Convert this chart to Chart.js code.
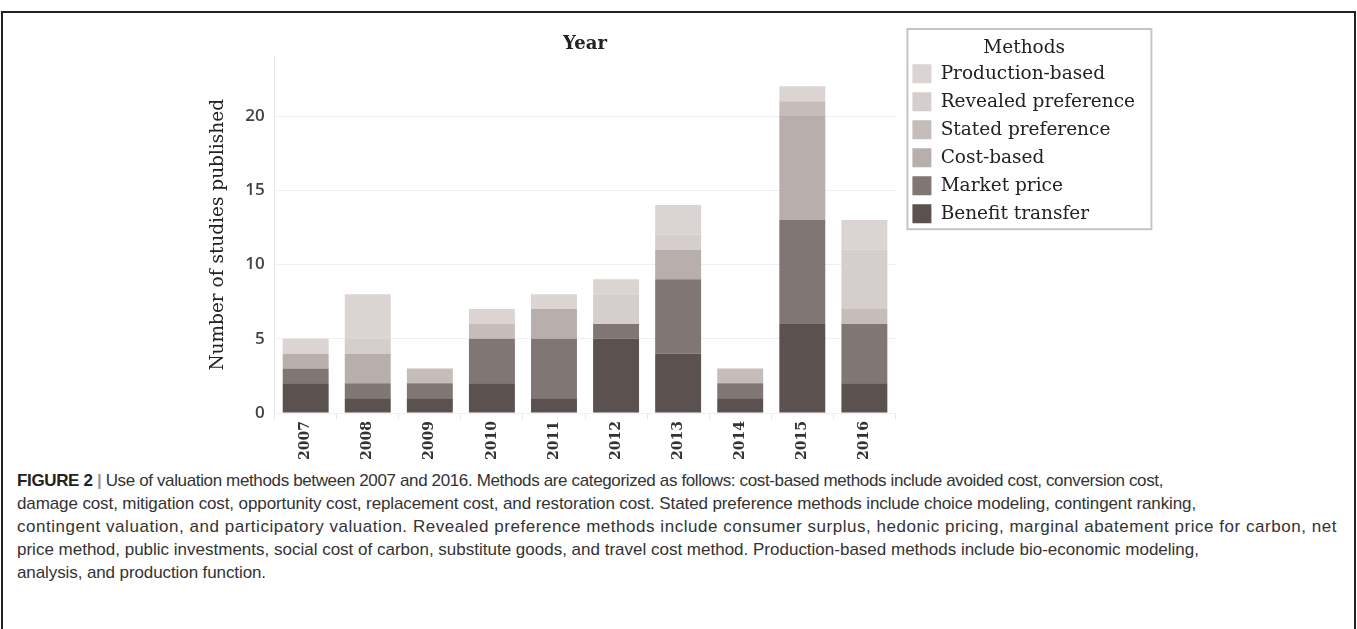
<!DOCTYPE html>
<html>
<head>
<meta charset="utf-8">
<script src="https://cdn.jsdelivr.net/npm/chart.js@4.4.1/dist/chart.umd.min.js"></script>
<style>
  html, body { margin: 0; padding: 0; background: #fff; }
  body { width: 1357px; height: 629px; position: relative; overflow: hidden; }
  .frame { position: absolute; left: 1px; top: 11px; width: 1351px; height: 640px;
           border: 2px solid #222; border-bottom: none; }
  .chart-wrapper { position: absolute; left: 0; top: 0; width: 1357px; height: 466px; }
  .caption { position: absolute; left: 17px; top: 469px;
             font-family: "Liberation Sans", Arial, sans-serif; font-size: 17px;
             line-height: 23px; color: #333; white-space: nowrap; }
  .caption span { display: block; }
  .caption b { color: #222; }
  .caption b i { font-style: normal; color: #999; }
</style>
</head>
<body>
<div class="frame"></div>
<div class="chart-wrapper"><canvas id="mainChart"></canvas></div>
<div class="caption">
  <span data-end="1163"><b>FIGURE 2 <i>|</i></b> Use of valuation methods between 2007 and 2016. Methods are categorized as follows: cost-based methods include avoided cost, conversion cost,</span>
  <span data-end="1196">damage cost, mitigation cost, opportunity cost, replacement cost, and restoration cost. Stated preference methods include choice modeling, contingent ranking,</span>
  <span data-end="1337">contingent valuation, and participatory valuation. Revealed preference methods include consumer surplus, hedonic pricing, marginal abatement price for carbon, net</span>
  <span data-end="1199">price method, public investments, social cost of carbon, substitute goods, and travel cost method. Production-based methods include bio-economic modeling,</span>
  <span data-end="266">analysis, and production function.</span>
</div>
<script>
const years = ['2007', '2008', '2009', '2010', '2011', '2012', '2013', '2014', '2015', '2016'];
const benefitTransfer = [2, 1, 1, 2, 1, 5, 4, 1, 6, 2];
const marketPrice = [1, 1, 1, 3, 4, 1, 5, 1, 7, 4];
const costBased = [1, 2, 0, 0, 2, 0, 2, 0, 7, 0];
const statedPreference = [0, 0, 1, 1, 0, 0, 0, 1, 1, 1];
const revealedPreference = [0, 1, 0, 0, 0, 2, 1, 0, 0, 4];
const productionBased = [1, 3, 0, 1, 1, 1, 2, 0, 1, 2];
const yTicks = [0, 5, 10, 15, 20];

const serif = '"DejaVu Serif", serif';

// caption lines: squeeze each line to the width it has in the figure
document.querySelectorAll('.caption span').forEach(function(line) {
    const r = document.createRange();
    r.selectNodeContents(line);
    const w = r.getBoundingClientRect().width;
    const target = +line.dataset.end - 17;
    const n = line.textContent.length;
    line.style.letterSpacing = ((target - w) / n) + 'px';
});

// legend: natural width (no squeeze), pushed a bit away from the bars, grey frame round it
const legendBox = {
    id: 'legendBox',
    afterInit(chart) {
        const lg = chart.legend;
        const fit = lg.fit;
        lg.fit = function() { this.maxWidth = 1000; fit.call(this); };
    },
    afterLayout(chart) {
        const lg = chart.legend;
        lg.left += 8;
        lg.right += 8;
    },
    afterDraw(chart) {
        const lg = chart.legend;
        if (!lg || !lg.legendHitBoxes.length) return;
        const boxes = lg.legendHitBoxes;
        const ctx = chart.ctx;
        const left = boxes[0].left - 5;
        const top = 29;
        const last = boxes[boxes.length - 1];
        const bottom = last.top + last.height + 6;
        ctx.save();
        ctx.strokeStyle = '#c9c4bf';
        ctx.lineWidth = 2;
        ctx.strokeRect(left, top, 244, bottom - top);
        ctx.restore();
    }
};

function ds(label, data, color) {
    return { label: label, data: data, backgroundColor: color, borderWidth: 0,
             barPercentage: 0.74, categoryPercentage: 1 };
}

new Chart(document.getElementById('mainChart'), {
    type: 'bar',
    data: {
        labels: years,
        datasets: [
            ds('Benefit transfer', benefitTransfer, '#5b514e'),
            ds('Market price', marketPrice, '#807673'),
            ds('Cost-based', costBased, '#b8afac'),
            ds('Stated preference', statedPreference, '#c6bdba'),
            ds('Revealed preference', revealedPreference, '#d6cecc'),
            ds('Production-based', productionBased, '#dbd4d2')
        ]
    },
    options: {
        responsive: true,
        maintainAspectRatio: false,
        animation: false,
        layout: { padding: { left: 203, right: 220, top: 0, bottom: 4 } },
        plugins: {
            title: {
                display: true, text: 'Year', color: '#222', fullSize: false,
                font: { family: serif, size: 18 },
                padding: { top: 34, bottom: 1 }
            },
            legend: {
                display: true, position: 'right', align: 'start', reverse: true,
                title: {
                    display: true, text: 'Methods', color: '#222',
                    font: { family: serif, size: 18.5 },
                    padding: { top: 39, bottom: -6 }
                },
                labels: {
                    boxWidth: 19, boxHeight: 19, padding: 9, color: '#222',
                    font: { family: serif, size: 18.5 }
                }
            },
            tooltip: { enabled: false }
        },
        scales: {
            x: {
                stacked: true,
                grid: { offset: true, drawOnChartArea: false, color: '#e6e6e6', tickLength: 6 },
                border: { display: false },
                ticks: {
                    minRotation: 90, maxRotation: 90, padding: 2, color: '#333',
                    font: { family: serif, size: 14, weight: 'bold' }
                }
            },
            y: {
                stacked: true,
                min: 0, max: 24,
                afterBuildTicks(axis) { axis.ticks = yTicks.map(v => ({ value: v })); },
                grid: { color: '#efefef', drawTicks: false },
                border: { display: true, color: '#e6e6e6' },
                ticks: {
                    padding: 10, color: '#444',
                    font: { family: '"Open Sans", sans-serif', size: 17, weight: '600' }
                },
                title: {
                    display: true, text: 'Number of studies published', color: '#222',
                    font: { family: serif, size: 18.5 },
                    padding: { top: 4, bottom: 6 }
                }
            }
        }
    },
    plugins: [legendBox]
});
</script>
</body>
</html>
